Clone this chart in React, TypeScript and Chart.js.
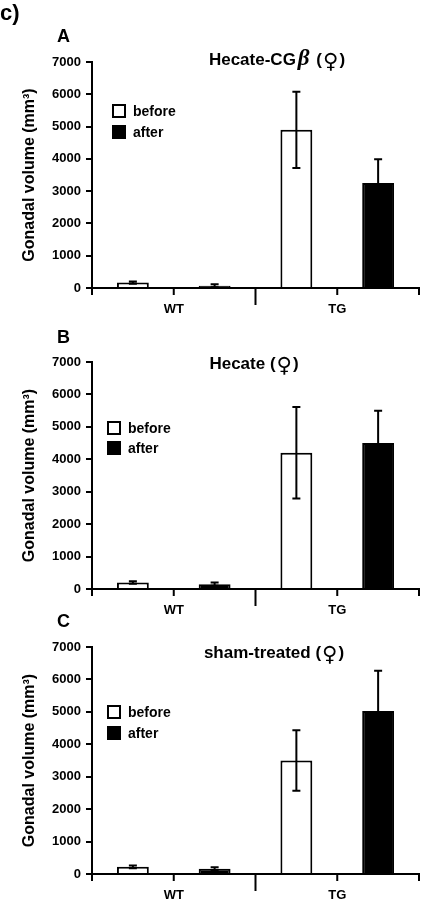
import React, { useEffect, useRef } from 'react';
import { Chart, registerables } from 'chart.js';

Chart.register(...registerables);

// ---------------- data ----------------
const categories = ['WT', 'TG'];
const seriesNames = ['before', 'after'];
const yMin = 0;
const yMax = 7000;
const yStep = 1000;
const figureLabel = 'c)';
const panelLetters = ['A', 'B', 'C'];
const panelTitles = ['Hecate-CGβ (♀)', 'Hecate (♀)', 'sham-treated (♀)'];
const yAxisTitle = 'Gonadal volume (mm³)';

const beforeA = [170, 4900];
const beforeErrA = [35, 1180];
const afterA = [70, 3250];
const afterErrA = [45, 740];

const beforeB = [200, 4200];
const beforeErrB = [40, 1410];
const afterB = [150, 4500];
const afterErrB = [50, 1000];

const beforeC = [220, 3500];
const beforeErrC = [40, 930];
const afterC = [160, 5030];
const afterErrC = [50, 1240];

const panelValues = [
  { before: beforeA, beforeErr: beforeErrA, after: afterA, afterErr: afterErrA },
  { before: beforeB, beforeErr: beforeErrB, after: afterB, afterErr: afterErrB },
  { before: beforeC, beforeErr: beforeErrC, after: afterC, afterErr: afterErrC },
];

// ---------------- layout / style ----------------
const W = 422;
const H = 902;
const FONT = '"Liberation Sans", Arial, Helvetica, sans-serif';
const X_AXIS_H = 30;
const Y_AXIS_W = 92;

const panelLayout = [
  { top: 62, bottom: 288, titleX: 277, titleDy: 3, legendX: 112, legendY: [104, 125], letterY: 42 },
  { top: 362, bottom: 589, titleX: 254, titleDy: 7, legendX: 107, legendY: [421, 441], letterY: 343 },
  { top: 647, bottom: 874, titleX: 274, titleDy: 11, legendX: 107, legendY: [705, 726], letterY: 627 },
];

const seriesFill = ['#ffffff', '#000000'];

const TITLE_FONT = 'bold 17px ' + FONT;
const specialFonts: Record<string, { f: string; dy: number; pad: number }> = {
  'β': { f: 'italic bold 23px "Liberation Serif", "DejaVu Serif", serif', dy: 0, pad: 2 },
  '♀': { f: 'bold 21px "DejaVu Sans", sans-serif', dy: 3, pad: 1 },
};

function makePlugin(idx: number) {
  const lay = panelLayout[idx];
  const vals = panelValues[idx];
  const errs = [vals.beforeErr, vals.afterErr];
  return {
    id: 'decor' + idx,
    afterDatasetsDraw(chart: any) {
      const ctx = chart.ctx as CanvasRenderingContext2D;
      const xs = chart.scales.x;
      const ys = chart.scales.y;
      const area = chart.chartArea;
      ctx.save();
      ctx.strokeStyle = '#000';
      ctx.fillStyle = '#000';
      ctx.lineWidth = 2;
      // error bars
      chart.data.datasets.forEach((ds: any, di: number) => {
        const meta = chart.getDatasetMeta(di);
        meta.data.forEach((bar: any, i: number) => {
          const v = ds.data[i];
          const e = errs[di][i];
          const t = ys.getPixelForValue(v + e);
          const b = ys.getPixelForValue(Math.max(0, v - e));
          const cx = bar.x;
          ctx.beginPath();
          ctx.moveTo(cx, t);
          ctx.lineTo(cx, b);
          ctx.moveTo(cx - 4, t);
          ctx.lineTo(cx + 4, t);
          ctx.moveTo(cx - 4, b);
          ctx.lineTo(cx + 4, b);
          ctx.stroke();
        });
      });
      // x axis tick marks
      const yb = area.bottom;
      ctx.beginPath();
      for (let i = 0; i < categories.length; i++) {
        const cx = xs.getPixelForValue(i);
        ctx.moveTo(cx, yb);
        ctx.lineTo(cx, yb + 7);
      }
      for (let i = 0; i <= categories.length; i++) {
        const bx = xs.getPixelForValue(i - 0.5);
        const len = i > 0 && i < categories.length ? 17 : 7;
        ctx.moveTo(bx, yb);
        ctx.lineTo(bx, yb + len);
      }
      ctx.stroke();
      // legend
      chart.data.datasets.forEach((ds: any, di: number) => {
        const bx = lay.legendX;
        const by = lay.legendY[di];
        ctx.fillStyle = ds.backgroundColor;
        ctx.fillRect(bx, by, 14, 14);
        ctx.strokeStyle = '#000';
        ctx.lineWidth = 2;
        ctx.strokeRect(bx + 1, by + 1, 12, 12);
        ctx.fillStyle = '#000';
        ctx.font = 'bold 14px ' + FONT;
        ctx.textBaseline = 'middle';
        ctx.textAlign = 'left';
        ctx.fillText(ds.label, bx + 21, by + 8);
      });
      // title with special glyph fonts
      const title = panelTitles[idx];
      const parts: { t: string; f: string; dy: number; pad: number }[] = [];
      let buf = '';
      for (const ch of Array.from(title)) {
        const sp = specialFonts[ch];
        if (sp) {
          if (buf) parts.push({ t: buf, f: TITLE_FONT, dy: 0, pad: 0 });
          buf = '';
          parts.push({ t: ch, f: sp.f, dy: sp.dy, pad: sp.pad });
        } else {
          buf += ch;
        }
      }
      if (buf) parts.push({ t: buf, f: TITLE_FONT, dy: 0, pad: 0 });
      let total = 0;
      parts.forEach((p) => {
        ctx.font = p.f;
        total += ctx.measureText(p.t).width + 2 * p.pad;
      });
      let tx = lay.titleX - total / 2;
      const ty = area.top + lay.titleDy;
      ctx.textBaseline = 'alphabetic';
      ctx.textAlign = 'left';
      ctx.fillStyle = '#000';
      parts.forEach((p) => {
        ctx.font = p.f;
        tx += p.pad;
        ctx.fillText(p.t, tx, ty + p.dy);
        tx += ctx.measureText(p.t).width + p.pad;
      });
      // panel letter
      ctx.font = 'bold 18px ' + FONT;
      ctx.fillText(panelLetters[idx], 57, lay.letterY);
      if (idx === 0) {
        ctx.font = 'bold 22px ' + FONT;
        ctx.fillText(figureLabel, 0, 20);
      }
      ctx.restore();
    },
  };
}

function Panel({ idx }: { idx: number }) {
  const ref = useRef<HTMLCanvasElement | null>(null);
  useEffect(() => {
    const lay = panelLayout[idx];
    const vals = panelValues[idx];
    const chart = new Chart(ref.current as HTMLCanvasElement, {
      type: 'bar',
      data: {
        labels: categories,
        datasets: [
          {
            label: seriesNames[0],
            data: vals.before,
            backgroundColor: seriesFill[0],
            borderColor: '#000',
            borderWidth: 2,
            barPercentage: 0.39,
            categoryPercentage: 1.0,
          },
          {
            label: seriesNames[1],
            data: vals.after,
            backgroundColor: seriesFill[1],
            borderColor: '#000',
            borderWidth: 2,
            barPercentage: 0.39,
            categoryPercentage: 1.0,
          },
        ],
      },
      options: {
        animation: false,
        responsive: false,
        maintainAspectRatio: false,
        devicePixelRatio: 1,
        events: [],
        layout: {
          padding: { left: 0, top: lay.top, right: 3, bottom: H - lay.bottom - X_AXIS_H },
        },
        plugins: {
          legend: { display: false },
          title: { display: false },
          tooltip: { enabled: false },
        },
        scales: {
          x: {
            type: 'category',
            offset: true,
            grid: { display: false, drawTicks: false, offset: true },
            border: { display: true, color: '#000', width: 2 },
            ticks: {
              color: '#000',
              padding: 14,
              font: { family: FONT, size: 13, weight: 'bold' },
              maxRotation: 0,
            },
            afterFit: (s: any) => {
              s.height = X_AXIS_H;
            },
          },
          y: {
            min: yMin,
            max: yMax,
            grid: {
              drawOnChartArea: false,
              drawTicks: true,
              tickLength: 6,
              color: '#000',
              lineWidth: 2,
            },
            border: { display: true, color: '#000', width: 2 },
            ticks: {
              stepSize: yStep,
              color: '#000',
              padding: 5,
              font: { family: FONT, size: 13, weight: 'bold' },
              callback: (v: any) => String(v),
            },
            title: {
              display: true,
              text: yAxisTitle,
              color: '#000',
              font: { family: FONT, size: 16, weight: 'bold' },
              padding: { top: 20, bottom: 0 },
            },
            afterFit: (s: any) => {
              s.width = Y_AXIS_W;
            },
          },
        },
      },
      plugins: [makePlugin(idx)],
    } as any);
    return () => chart.destroy();
  }, [idx]);
  return (
    <canvas
      ref={ref}
      width={W}
      height={H}
      style={{ position: 'absolute', left: 0, top: 0, width: W, height: H, display: 'block' }}
    />
  );
}

export default function App() {
  return (
    <div style={{ position: 'absolute', left: 0, top: 0, width: W, height: H, background: '#fff', overflow: 'hidden' }}>
      <Panel idx={0} />
      <Panel idx={1} />
      <Panel idx={2} />
    </div>
  );
}
